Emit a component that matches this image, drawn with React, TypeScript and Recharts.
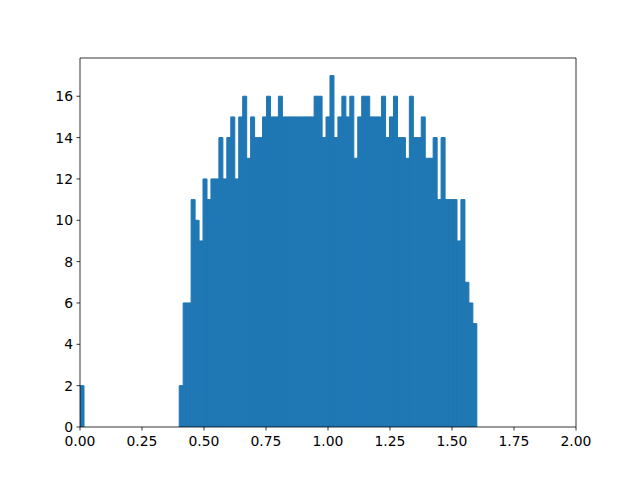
import { Bar, ComposedChart, ReferenceLine, XAxis, YAxis } from "recharts"

// histogram: 100 bins of width 0.016 starting at 0
const BIN_WIDTH = 0.016

const COUNTS = [
  2, 0, 0, 0, 0, 0, 0, 0, 0, 0,
  0, 0, 0, 0, 0, 0, 0, 0, 0, 0,
  0, 0, 0, 0, 0, 2, 6, 6, 11, 10,
  9, 12, 11, 12, 12, 14, 12, 14, 15, 12,
  15, 16, 13, 15, 14, 14, 15, 16, 15, 15,
  16, 15, 15, 15, 15, 15, 15, 15, 15, 16,
  16, 14, 15, 17, 14, 15, 16, 15, 16, 13,
  15, 16, 16, 15, 15, 15, 16, 14, 15, 16,
  14, 14, 13, 16, 14, 14, 15, 13, 13, 14,
  11, 14, 11, 11, 11, 9, 11, 7, 6, 5,
]

const X_TICKS = [0, 0.25, 0.5, 0.75, 1, 1.25, 1.5, 1.75, 2]
const Y_TICKS = [0, 2, 4, 6, 8, 10, 12, 14, 16]
const Y_MAX = 17.85
const X_MAX = 2

const data = COUNTS.map((count, i) => ({
  x: i * BIN_WIDTH + BIN_WIDTH / 2,
  count,
}))

const BLUE = "#1f77b4"
const tick = {
  fill: "#000",
  fontSize: 13.9,
  fontFamily: "DejaVu Sans",
}
const spine = { stroke: "#000", strokeWidth: 0.8 }

export default function App() {
  return (
    <div style={{ position: "absolute", left: 0, top: 0 }}>
      <ComposedChart
        width={640}
        height={480}
        data={data}
        margin={{ top: 58, right: 64, bottom: 23, left: 30 }}
        barCategoryGap={0}
        barGap={0}
      >
        <XAxis
          dataKey="x"
          type="number"
          domain={[0, X_MAX]}
          ticks={X_TICKS}
          tickFormatter={(v) => Number(v).toFixed(2)}
          tick={tick}
          tickSize={3.5}
          tickMargin={6}
          height={30}
          axisLine={spine}
          tickLine={spine}
          allowDataOverflow
        />
        <YAxis
          type="number"
          domain={[0, Y_MAX]}
          ticks={Y_TICKS}
          tick={tick}
          tickSize={3.5}
          tickMargin={3.5}
          width={50}
          axisLine={spine}
          tickLine={spine}
          allowDataOverflow
        />
        <Bar
          dataKey="count"
          fill={BLUE}
          stroke={BLUE}
          strokeWidth={1}
          isAnimationActive={false}
        />
        <ReferenceLine y={Y_MAX} {...spine} />
        <ReferenceLine x={X_MAX} {...spine} />
      </ComposedChart>
    </div>
  )
}
